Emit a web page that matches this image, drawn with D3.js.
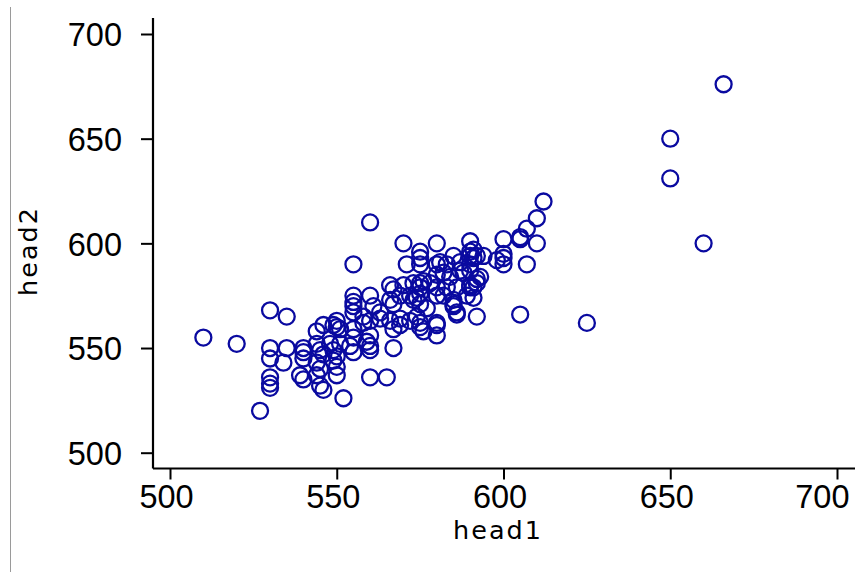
<!DOCTYPE html>
<html>
<head>
<meta charset="utf-8">
<script src="https://cdn.jsdelivr.net/npm/d3@7"></script>
<style>
  html, body { margin: 0; padding: 0; background: #fff; }
  svg { display: block; }
  .tick text { font-family: "Liberation Sans", Arial, sans-serif; }
</style>
</head>
<body>
<svg id="chart" width="857" height="574"></svg>
<script>
// head1 measurements
const head1 = [
  510, 520, 527, 530, 535, 530, 535, 530, 534, 530, 530, 530, 540, 540, 540, 539, 540,
  544, 546, 549, 545, 546, 552, 555, 555, 555, 560, 560, 560, 565, 555, 560, 570, 575,
  580, 590, 600, 605, 571, 575, 590, 592, 594, 590, 598, 600, 600, 607, 581, 583, 587,
  592, 605, 580, 580, 575, 567, 612, 610, 607, 605, 610, 600, 593, 590, 589, 585, 586,
  625, 650, 650, 660, 666, 545, 546, 544, 544, 545, 544, 549, 550, 550, 548, 549, 551,
  555, 566, 567, 570, 573, 575, 569, 572, 574, 566, 567, 561, 563, 563, 558, 560, 558,
  550, 550, 551, 555, 555, 560, 559, 560, 567, 569, 569, 572, 574, 566, 576, 550, 554,
  555, 575, 580, 585, 590, 591, 580, 582, 584, 587, 588, 590, 592, 575, 576, 578, 580,
  583, 586, 590, 591, 575, 573, 580, 582, 585, 575, 577, 585, 586, 575, 580, 591, 592,
  591
];
// head2 measurements, paired with head1 by index
const head2 = [
  555, 552, 520, 568, 565, 550, 550, 545, 543, 536, 533, 531, 550, 548, 545, 537, 535,
  558, 561, 561, 532, 530, 526, 572, 570, 567, 575, 549, 536, 536, 590, 610, 600, 596,
  600, 601, 602, 602, 590, 590, 596, 594, 594, 590, 592, 590, 595, 590, 591, 590, 591,
  565, 566, 561, 556, 560, 550, 620, 612, 607, 603, 600, 593, 584, 580, 575, 571, 566,
  562, 650, 631, 600, 676, 549, 547, 552, 543, 540, 537, 544, 541, 537, 552, 549, 552,
  575, 580, 578, 580, 581, 579, 575, 575, 574, 573, 571, 570, 567, 564, 565, 563, 562,
  563, 560, 559, 559, 555, 556, 553, 551, 559, 561, 564, 563, 565, 563, 558, 546, 551,
  548, 593, 590, 594, 594, 593, 585, 586, 584, 587, 586, 587, 583, 581, 582, 581, 579,
  579, 579, 579, 579, 576, 573, 575, 575, 573, 571, 569, 570, 567, 562, 562, 597, 581,
  574
];
const xTicks = [500, 550, 600, 650, 700];
const yTicks = [500, 550, 600, 650, 700];
const xTitle = "head1";
const yTitle = "head2";

const W = 857;
const svg = d3.select("#chart");
const ink = "#000";
const markColor = "#0a0aa0";

const x = d3.scaleLinear().domain([500, 700]).range([170, 837]);
const y = d3.scaleLinear().domain([500, 700]).range([452.7, 34]);

// thin grey rule at the far left
svg.append("line")
  .attr("x1", 10.5).attr("x2", 10.5)
  .attr("y1", 7).attr("y2", 572)
  .attr("stroke", "#9a9a9a").attr("stroke-width", 1);

// axis lines (extend past the tick range)
const axisX0 = 153, axisY0 = 468.5;
svg.append("line")
  .attr("x1", axisX0).attr("x2", 855)
  .attr("y1", axisY0).attr("y2", axisY0)
  .attr("stroke", ink).attr("stroke-width", 2.2);
svg.append("line")
  .attr("x1", axisX0).attr("x2", axisX0)
  .attr("y1", 18).attr("y2", axisY0)
  .attr("stroke", ink).attr("stroke-width", 2.2);

// x axis ticks and labels
const xAxis = d3.axisBottom(x).tickValues(xTicks).tickSize(11).tickSizeOuter(0).tickPadding(4);
const gx = svg.append("g").attr("transform", `translate(0,${axisY0})`).call(xAxis);
gx.select(".domain").remove();
gx.selectAll(".tick line").attr("stroke", ink).attr("stroke-width", 2);
gx.selectAll(".tick text")
  .attr("font-size", 32.5).attr("fill", ink)
  .attr("dy", "0.75em")
  .attr("x", -4);
// keep the last label inside the drawing area
gx.selectAll(".tick text").each(function () {
  const b = this.getBBox();
  const tickX = x(+d3.select(this.parentNode).datum());
  const right = tickX + b.x + b.width;
  if (right > W - 8) {
    d3.select(this).attr("x", +d3.select(this).attr("x") - (right - (W - 8)));
  }
});

// y axis ticks and labels
const yAxis = d3.axisLeft(y).tickValues(yTicks).tickSize(12).tickSizeOuter(0).tickPadding(19);
const gy = svg.append("g").attr("transform", `translate(${axisX0},0)`).call(yAxis);
gy.select(".domain").remove();
gy.selectAll(".tick line").attr("stroke", ink).attr("stroke-width", 2);
gy.selectAll(".tick text")
  .attr("font-size", 32.5).attr("fill", ink)
  .attr("dy", "0.36em");

// axis titles
svg.append("text")
  .attr("x", 498).attr("y", 539)
  .attr("text-anchor", "middle")
  .attr("font-family", "DejaVu Sans, sans-serif")
  .attr("font-size", 25.5).attr("letter-spacing", 2)
  .attr("fill", ink)
  .text(xTitle);

svg.append("text")
  .attr("transform", "translate(37,251) rotate(-90)")
  .attr("text-anchor", "middle")
  .attr("font-family", "DejaVu Sans, sans-serif")
  .attr("font-size", 25.5).attr("letter-spacing", 2)
  .attr("fill", ink)
  .text(yTitle);

// hollow circle markers
svg.append("g")
  .selectAll("circle")
  .data(d3.range(head1.length))
  .join("circle")
  .attr("cx", i => x(head1[i]))
  .attr("cy", i => y(head2[i]))
  .attr("r", 8)
  .attr("fill", "none")
  .attr("stroke", markColor)
  .attr("stroke-width", 2.3);
</script>
</body>
</html>
